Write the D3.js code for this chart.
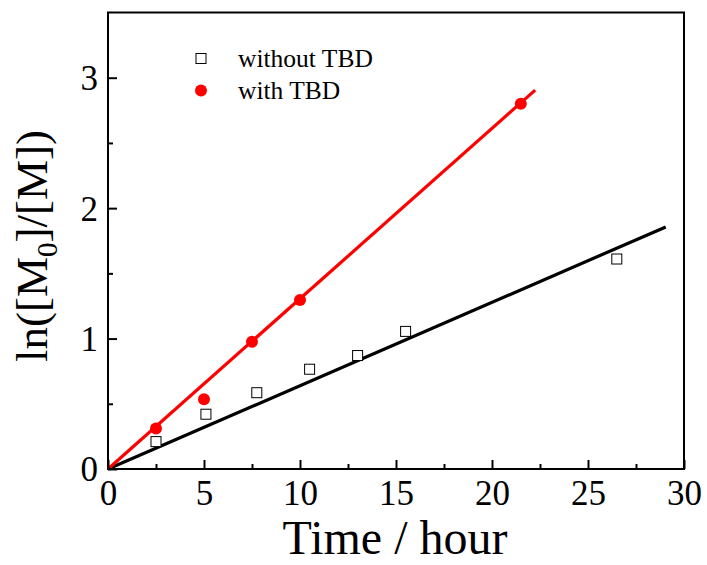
<!DOCTYPE html>
<html>
<head>
<meta charset="utf-8">
<script src="https://cdn.jsdelivr.net/npm/d3@7"></script>
<style>
  body { margin: 0; background: #fff; }
  text { font-family: "Liberation Serif", "Times New Roman", serif; }
</style>
</head>
<body>
<div id="container"></div>
<script>
const w = 707;
const h = 565;

// without TBD (open squares)
const timeWithout = [2.5, 5.1, 7.75, 10.5, 13, 15.5, 26.5];
const lnWithout = [0.21, 0.42, 0.585, 0.765, 0.87, 1.055, 1.61];
// with TBD (red circles)
const timeWith = [2.5, 5, 7.5, 10, 21.5];
const lnWith = [0.31, 0.535, 0.975, 1.295, 2.8];
// linear fits, end points
const fitWithout = [[0, 0], [29.05, 1.856]];
const fitWith = [[0, 0], [22.25, 2.905]];

const xTicks = [0, 5, 10, 15, 20, 25, 30];
const xMinor = [2.5, 7.5, 12.5, 17.5, 22.5, 27.5];
const yTicks = [0, 1, 2, 3];
const yMinor = [0.5, 1.5, 2.5];

const plotLeft = 108, plotRight = 684, plotTop = 12.5, plotBottom = 469;
const serif = '"Liberation Serif", "Times New Roman", serif';

const xScale = d3.scaleLinear().domain([0, 30]).range([plotLeft, plotRight]);
const yScale = d3.scaleLinear().domain([0, 3.5]).range([plotBottom, plotTop]);

const svg = d3.select("#container")
  .append("svg")
  .attr("width", w)
  .attr("height", h)
  .style("background-color", "#fff");

// fit lines
const line = d3.line().x(d => xScale(d[0])).y(d => yScale(d[1]));
svg.append("path")
  .attr("d", line(fitWithout))
  .attr("fill", "none")
  .attr("stroke", "#000")
  .attr("stroke-width", 3.2);
svg.append("path")
  .attr("d", line(fitWith))
  .attr("fill", "none")
  .attr("stroke", "#ff0000")
  .attr("stroke-width", 3.2);

// markers
svg.selectAll("rect.sq")
  .data(timeWithout.map((t, i) => [t, lnWithout[i]]))
  .enter()
  .append("rect")
  .attr("class", "sq")
  .attr("x", d => xScale(d[0]) - 5)
  .attr("y", d => yScale(d[1]) - 5)
  .attr("width", 10)
  .attr("height", 10)
  .attr("fill", "#fff")
  .attr("stroke", "#000")
  .attr("stroke-width", 1);

svg.selectAll("circle.dot")
  .data(timeWith.map((t, i) => [t, lnWith[i]]))
  .enter()
  .append("circle")
  .attr("class", "dot")
  .attr("cx", d => xScale(d[0]))
  .attr("cy", d => yScale(d[1]))
  .attr("r", 6)
  .attr("fill", "#ff0000");

// axes, ticks pointing inward
const xAxis = svg.append("g")
  .attr("transform", "translate(0," + plotBottom + ")")
  .call(d3.axisBottom(xScale).tickValues(xTicks).tickFormat(d3.format("d"))
    .tickSize(-9).tickPadding(12));
svg.append("g")
  .attr("transform", "translate(0," + plotBottom + ")")
  .call(d3.axisBottom(xScale).tickValues(xMinor).tickSize(-5).tickFormat(""));

const yAxis = svg.append("g")
  .attr("transform", "translate(" + plotLeft + ",0)")
  .call(d3.axisLeft(yScale).tickValues(yTicks).tickFormat(d3.format("d"))
    .tickSize(-9).tickPadding(10));
svg.append("g")
  .attr("transform", "translate(" + plotLeft + ",0)")
  .call(d3.axisLeft(yScale).tickValues(yMinor).tickSize(-5).tickFormat(""));

svg.selectAll(".domain").remove();
svg.selectAll(".tick line").attr("stroke", "#000").attr("stroke-width", 2);
svg.selectAll(".tick text")
  .style("font-family", serif)
  .style("font-size", "35px")
  .attr("fill", "#000");
xAxis.selectAll("text").attr("dy", "0.68em");
yAxis.selectAll("text").attr("dy", "0.34em");

// frame
svg.append("rect")
  .attr("x", plotLeft)
  .attr("y", plotTop)
  .attr("width", plotRight - plotLeft)
  .attr("height", plotBottom - plotTop)
  .attr("fill", "none")
  .attr("stroke", "#000")
  .attr("stroke-width", 2);

// axis titles
svg.append("text")
  .attr("x", 395)
  .attr("y", 554)
  .attr("text-anchor", "middle")
  .style("font-family", serif)
  .style("font-size", "48px")
  .text("Time / hour");

const yTitle = svg.append("text")
  .attr("transform", "translate(47,246) rotate(-90)")
  .attr("text-anchor", "middle")
  .style("font-family", serif)
  .style("font-size", "45px");
yTitle.append("tspan").text("ln([M");
yTitle.append("tspan").style("font-size", "29px").attr("dy", 10).text("0");
yTitle.append("tspan").attr("dy", -10).text("]/[M])");

// legend
const legend = svg.append("g");
legend.append("rect")
  .attr("x", 196)
  .attr("y", 53.5)
  .attr("width", 10)
  .attr("height", 10)
  .attr("fill", "#fff")
  .attr("stroke", "#000")
  .attr("stroke-width", 1);
legend.append("circle")
  .attr("cx", 201)
  .attr("cy", 90.5)
  .attr("r", 6)
  .attr("fill", "#ff0000");
legend.append("text")
  .attr("x", 238)
  .attr("y", 66.5)
  .style("font-family", serif)
  .style("font-size", "25.5px")
  .text("without TBD");
legend.append("text")
  .attr("x", 238)
  .attr("y", 98.5)
  .style("font-family", serif)
  .style("font-size", "25.5px")
  .text("with TBD");
</script>
</body>
</html>
